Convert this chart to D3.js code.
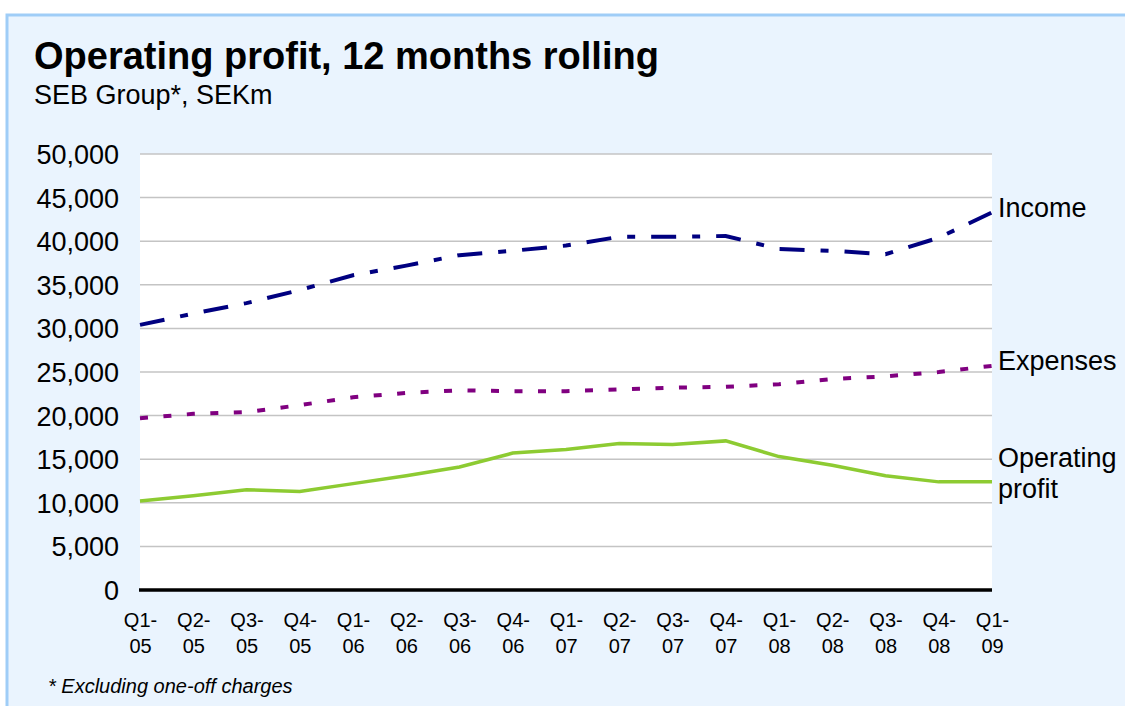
<!DOCTYPE html>
<html>
<head>
<meta charset="utf-8">
<script src="https://cdn.jsdelivr.net/npm/d3@7"></script>
<style>
  body { margin: 0; background: #fff; }
  text { font-family: "Liberation Sans", Arial, sans-serif; fill: #000; }
</style>
</head>
<body>
<div id="chart"></div>
<script>
// quarters on the x axis
const quarters = ["Q1-05","Q2-05","Q3-05","Q4-05","Q1-06","Q2-06","Q3-06","Q4-06",
                  "Q1-07","Q2-07","Q3-07","Q4-07","Q1-08","Q2-08","Q3-08","Q4-08","Q1-09"];

// SEKm, 12 months rolling
const income    = [30400,31700,32900,34400,36100,37200,38400,38900,39500,40500,40500,40600,39100,38900,38500,40400,43300];
const expenses  = [19700,20200,20400,21200,22100,22600,22900,22800,22800,23000,23200,23300,23600,24200,24500,25000,25700];
const opProfit  = [10200,10800,11500,11300,12200,13100,14100,15700,16100,16800,16700,17100,15300,14300,13100,12400,12400];

const yTicks = [0,5000,10000,15000,20000,25000,30000,35000,40000,45000,50000];

const W = 1125, H = 706;
const margin = {top: 154, right: 133, bottom: 116, left: 140};

const svg = d3.select("#chart").append("svg")
    .attr("width", W)
    .attr("height", H);

// background panel
svg.append("rect")
    .attr("x", 7).attr("y", 15)
    .attr("width", 1130).attr("height", 720)
    .attr("fill", "#EAF4FE")
    .attr("stroke", "#9FCDF7")
    .attr("stroke-width", 3);

svg.append("text")
    .attr("x", 34).attr("y", 69)
    .style("font-size", "38px")
    .style("font-weight", "bold")
    .text("Operating profit, 12 months rolling");

svg.append("text")
    .attr("x", 34).attr("y", 104)
    .style("font-size", "27px")
    .text("SEB Group*, SEKm");

svg.append("text")
    .attr("x", 48).attr("y", 693)
    .style("font-size", "20px")
    .style("font-style", "italic")
    .text("* Excluding one-off charges");

const x = d3.scalePoint()
    .domain(quarters)
    .range([margin.left, W - margin.right]);

const y = d3.scaleLinear()
    .domain([0, 50000])
    .range([H - margin.bottom - 0, margin.top]);

// plot area
svg.append("rect")
    .attr("x", margin.left).attr("y", margin.top)
    .attr("width", W - margin.right - margin.left)
    .attr("height", y(0) - margin.top)
    .attr("fill", "#fff");

// gridlines
svg.append("g")
    .selectAll("line")
    .data(yTicks.filter(d => d > 0))
    .join("line")
    .attr("x1", margin.left).attr("x2", W - margin.right)
    .attr("y1", d => y(d)).attr("y2", d => y(d))
    .attr("stroke", "#C4C4C4")
    .attr("stroke-width", 1.5);

// y axis labels
const yAxis = svg.append("g")
    .attr("transform", `translate(${margin.left},0)`)
    .call(d3.axisLeft(y).tickValues(yTicks).tickSize(0).tickPadding(21).tickFormat(d3.format(",")));
yAxis.select(".domain").remove();
yAxis.selectAll("text").style("font-size", "27px").attr("dy", "0.35em");

// x axis labels, two lines each
const xAxis = svg.append("g")
    .attr("transform", `translate(0,${y(0)})`)
    .call(d3.axisBottom(x).tickSize(0).tickFormat(""));
xAxis.select(".domain").remove();
xAxis.selectAll(".tick").each(function(d) {
    const parts = d.split("-");
    const t = d3.select(this).append("text")
        .attr("text-anchor", "middle")
        .style("font-size", "20px");
    t.append("tspan").attr("x", 0).attr("y", 37).text(parts[0] + "-");
    t.append("tspan").attr("x", 0).attr("y", 63).text(parts[1]);
});

// zero line
svg.append("line")
    .attr("x1", margin.left - 1).attr("x2", W - margin.right)
    .attr("y1", y(0)).attr("y2", y(0))
    .attr("stroke", "#000")
    .attr("stroke-width", 3.5);

const line = d3.line()
    .x((d, i) => x(quarters[i]))
    .y(d => y(d));

svg.append("path")
    .datum(opProfit)
    .attr("fill", "none")
    .attr("stroke", "#8DCB32")
    .attr("stroke-width", 3.5)
    .attr("d", line);

svg.append("path")
    .datum(expenses)
    .attr("fill", "none")
    .attr("stroke", "#800080")
    .attr("stroke-width", 4)
    .attr("stroke-dasharray", "8,15.5")
    .attr("d", line);

svg.append("path")
    .datum(income)
    .attr("fill", "none")
    .attr("stroke", "#000080")
    .attr("stroke-width", 4)
    .attr("stroke-dasharray", "25,16,8,16")
    .attr("d", line);

// series labels at the right end
const xEnd = W - margin.right + 6;
svg.append("text")
    .attr("x", xEnd).attr("y", 208).attr("dy", "0.35em")
    .style("font-size", "27px")
    .text("Income");
svg.append("text")
    .attr("x", xEnd).attr("y", 361).attr("dy", "0.35em")
    .style("font-size", "27px")
    .text("Expenses");
const op = svg.append("text")
    .style("font-size", "27px");
op.append("tspan").attr("x", xEnd).attr("y", 458).attr("dy", "0.35em").text("Operating");
op.append("tspan").attr("x", xEnd).attr("y", 489).attr("dy", "0.35em").text("profit");
</script>
</body>
</html>
